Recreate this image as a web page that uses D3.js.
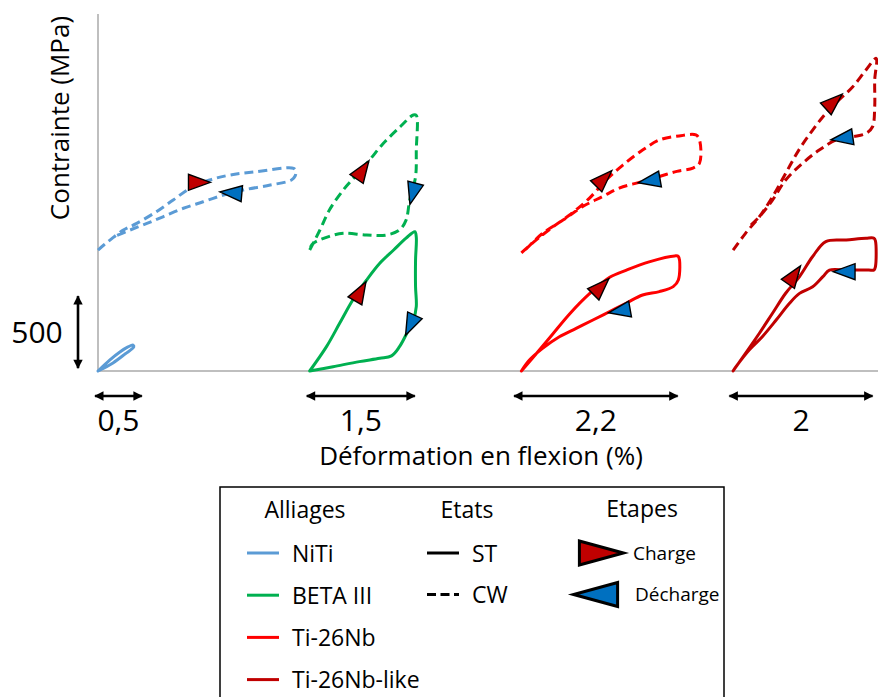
<!DOCTYPE html>
<html><head><meta charset="utf-8">
<script src="https://cdn.jsdelivr.net/npm/d3@7/dist/d3.min.js"></script>
<style>
html,body{margin:0;padding:0;background:#fff;}
svg{display:block;font-family:"Open Sans","Noto Sans",sans-serif;}
</style></head>
<body><svg id="chart" width="878" height="697"></svg>
<script>
// ---------- DATA ----------
const alloys = ["NiTi", "BETA III", "Ti-26Nb", "Ti-26Nb-like"];
const alloyColors = ["#5B9BD5", "#00B050", "#FF0000", "#C00000"];
const alloyStrainOffsets = [0, 2.9, 5.8, 8.7];     // display offset between alloys (%)
const states = ["ST", "CW"];
const stateStressOffsets = [0, 840];               // display offset of CW curves (MPa)
const stages = ["Charge", "Décharge"];
const stageColors = ["#C00000", "#0070C0"];

// [strain %, stress MPa] — loading then unloading
const nitiST = [[0,0],[0.16,76],[0.30,132],[0.41,167],[0.48,180],[0.49,167],[0.37,118],[0.205,56],[0.055,14],[0,0]];
const nitiCW = [[0,0],[0.08,35],[0.164,69],[0.347,139],[0.53,185],[0.80,266],[1.03,347],[1.26,428],[1.53,486],[1.81,521],[2.17,544],[2.68,567],[2.71,545],[2.70,514],[2.65,486],[2.36,451],[1.99,417],[1.72,382],[1.44,335],[1.17,290],[0.89,231],[0.67,185],[0.44,139],[0.23,95]];
const betaST = [[0,0],[0.23,169],[0.41,331],[0.59,493],[0.78,632],[0.96,748],[1.15,840],[1.32,922],[1.44,967],[1.46,930],[1.45,771],[1.45,585],[1.46,447],[1.42,354],[1.33,262],[1.23,169],[1.12,105],[0.96,88],[0.68,65],[0.32,30],[0,0]];
const betaCW = [[0,0],[0.14,139],[0.27,278],[0.46,417],[0.64,521],[0.82,625],[1.01,741],[1.24,856],[1.42,938],[1.46,935],[1.46,694],[1.45,509],[1.37,347],[1.32,208],[1.23,139],[1.05,104],[0.78,104],[0.46,116],[0.27,95],[0.05,47],[0,10]];
const ti26ST = [[0,0],[0.20,118],[0.43,257],[0.66,396],[0.93,535],[1.21,651],[1.44,701],[1.75,758],[2.10,799],[2.15,795],[2.15,632],[2.08,586],[1.89,551],[1.66,528],[1.44,472],[1.21,413],[0.98,354],[0.75,296],[0.52,238],[0.29,157],[0.11,76],[0,0]];
const ti26CW = [[0,-20],[0.20,69],[0.43,160],[0.66,243],[0.93,359],[1.16,486],[1.39,590],[1.66,694],[1.89,764],[2.16,792],[2.39,799],[2.44,764],[2.44,604],[2.35,569],[2.13,546],[1.89,511],[1.66,476],[1.34,430],[1.11,371],[0.84,302],[0.57,208],[0.29,116],[0.12,35],[0.03,-10]];
const ti26likeST = [[0,0],[0.17,123],[0.36,262],[0.54,401],[0.72,540],[0.91,656],[1.09,795],[1.27,899],[1.55,910],[1.82,922],[1.93,922],[1.95,903],[1.95,725],[1.93,701],[1.86,701],[1.73,701],[1.55,701],[1.32,701],[1.23,655],[1.09,585],[0.91,539],[0.77,469],[0.59,354],[0.40,238],[0.22,146],[0.04,30],[0,0]];
const ti26likeCW = [[0,0],[0.17,116],[0.36,231],[0.54,370],[0.72,532],[0.90,694],[1.09,833],[1.27,949],[1.45,1042],[1.64,1134],[1.82,1250],[1.96,1331],[1.94,1181],[1.94,996],[1.91,856],[1.82,810],[1.64,787],[1.41,764],[1.18,694],[0.95,602],[0.72,486],[0.54,347],[0.36,231],[0.22,162]];

// stage markers: [alloy, state, stage, strain, stress, direction deg]
const stageMarkers = [
  [0,1,0,1.36,470,0],   [0,1,1,1.85,396,185],
  [1,1,0,0.71,544,-56], [1,1,1,1.42,405,105],
  [1,0,0,0.68,540,-60], [1,0,1,1.39,331,115],
  [2,1,0,1.11,486,-45], [2,1,1,1.78,483,170],
  [2,0,0,1.07,576,-45], [2,0,1,1.37,420,170],
  [3,1,0,1.36,1021,-42],[3,1,1,1.52,778,172],
  [3,0,0,0.82,655,-55], [3,0,1,1.55,690,180]
];

// strain scale bars: [alloy, from, to, label]
const strainBars = [[0,-0.04,0.60,"0,5"],[1,-0.04,1.44,"1,5"],[2,-0.10,2.14,"2,2"],[3,-0.05,1.91,"2"]];
const stressBar = [20, 520, "500"];

// ---------- CHART ----------
const svg = d3.select("#chart");
const x = d3.scaleLinear().domain([0, 10.685]).range([98, 878]);
const y = d3.scaleLinear().domain([0, 2479]).range([371, 14]);

const curves = [
  [0,0,nitiST],[0,1,nitiCW],[1,0,betaST],[1,1,betaCW],
  [2,0,ti26ST],[2,1,ti26CW],[3,0,ti26likeST],[3,1,ti26likeCW]
];

const defs = svg.append("defs");
defs.append("marker").attr("id","arr").attr("viewBox","0 0 10 10")
  .attr("refX",9).attr("refY",5)
  .attr("markerWidth",4.4).attr("markerHeight",3.6)
  .attr("markerUnits","strokeWidth").attr("orient","auto-start-reverse")
  .append("path").attr("d","M0,0L10,5L0,10Z").attr("fill","#000");

// axes
svg.append("line").attr("x1",x(0)).attr("x2",x(0)).attr("y1",y(0)+1).attr("y2",y(2479))
  .attr("stroke","#BFBFBF").attr("stroke-width",2);
svg.append("line").attr("x1",x(0)-1).attr("x2",x(10.685)).attr("y1",y(0)).attr("y2",y(0))
  .attr("stroke","#BFBFBF").attr("stroke-width",2);

const line = d3.line()
  .x(d=>d[0]).y(d=>d[1]).curve(d3.curveCatmullRom.alpha(0.5));

curves.forEach(([a,s,pts])=>{
  const px = pts.map(p=>[x(p[0]+alloyStrainOffsets[a]), y(p[1]+stateStressOffsets[s])]);
  svg.append("path").attr("d", line(px)).attr("fill","none")
    .attr("stroke", alloyColors[a]).attr("stroke-width",3)
    .attr("stroke-linejoin","round").attr("stroke-linecap", s===1?"butt":"round")
    .attr("stroke-dasharray", s===1 ? "9,5" : null);
});

function tri(L,H){ return `M${L*0.6},0L${-L*0.4},${-H/2}L${-L*0.4},${H/2}Z`; }

stageMarkers.forEach(([a,s,st,e,sig,ang])=>{
  svg.append("path").attr("d", tri(22,16))
    .attr("transform",`translate(${x(e+alloyStrainOffsets[a])},${y(sig+stateStressOffsets[s])}) rotate(${ang})`)
    .attr("fill", stageColors[st]).attr("stroke","#000").attr("stroke-width",1.4).attr("stroke-linejoin","miter");
});

// stress scale bar
svg.append("line").attr("x1",78).attr("x2",78).attr("y1",y(stressBar[0])).attr("y2",y(stressBar[1]))
  .attr("stroke","#000").attr("stroke-width",2.6)
  .attr("marker-start","url(#arr)").attr("marker-end","url(#arr)");
svg.append("text").attr("x",37).attr("y",y((stressBar[0]+stressBar[1])/2)+11)
  .attr("text-anchor","middle").attr("font-size",30).attr("fill","#000").text(stressBar[2]);

// strain scale bars
strainBars.forEach(([a,f,t,lab])=>{
  const x1 = x(f+alloyStrainOffsets[a]), x2 = x(t+alloyStrainOffsets[a]);
  svg.append("line").attr("x1",x1).attr("x2",x2).attr("y1",396).attr("y2",396)
    .attr("stroke","#000").attr("stroke-width",2.6)
    .attr("marker-start","url(#arr)").attr("marker-end","url(#arr)");
  svg.append("text").attr("x",(x1+x2)/2).attr("y",431).attr("text-anchor","middle")
    .attr("font-size",30).attr("fill","#000").text(lab);
});

// axis titles
svg.append("text").attr("x",481).attr("y",465).attr("text-anchor","middle")
  .attr("font-size",26).attr("fill","#000").text("Déformation en flexion (%)");
svg.append("text").attr("transform","translate(69,118) rotate(-90)").attr("text-anchor","middle")
  .attr("font-size",26).attr("fill","#000").text("Contrainte (MPa)");

// ---------- LEGEND ----------
const lg = svg.append("g");
lg.append("rect").attr("x",220).attr("y",487).attr("width",504).attr("height",220)
  .attr("fill","#fff").attr("stroke","#000").attr("stroke-width",1.5);
lg.append("text").attr("x",305).attr("y",518).attr("text-anchor","middle").attr("font-size",23).text("Alliages");
lg.append("text").attr("x",467).attr("y",518).attr("text-anchor","middle").attr("font-size",23).text("Etats");
lg.append("text").attr("x",642).attr("y",517).attr("text-anchor","middle").attr("font-size",23).text("Etapes");

alloys.forEach((name,i)=>{
  const yy = 553 + i*42.2;
  lg.append("line").attr("x1",247).attr("x2",279).attr("y1",yy).attr("y2",yy)
    .attr("stroke",alloyColors[i]).attr("stroke-width",3);
  lg.append("text").attr("x",292).attr("y",yy+8.5).attr("font-size",23).text(name);
});
states.forEach((name,i)=>{
  const yy = 553 + i*41.5;
  lg.append("line").attr("x1",427).attr("x2",459).attr("y1",yy).attr("y2",yy)
    .attr("stroke","#000").attr("stroke-width",3).attr("stroke-dasharray", i===1?"9,4.5":null);
  lg.append("text").attr("x",472).attr("y",yy+8.5).attr("font-size",23).text(name);
});
stages.forEach((name,i)=>{
  const yy = 553 + i*41.5;
  lg.append("path").attr("d", tri(44,24))
    .attr("transform", `translate(${i===0?597:600},${yy}) rotate(${i===0?0:180})`)
    .attr("fill",stageColors[i]).attr("stroke","#000").attr("stroke-width",3);
  lg.append("text").attr("x", i===0?633:635).attr("y",yy+6.5).attr("font-size",19).text(name);
});
</script></body></html>
